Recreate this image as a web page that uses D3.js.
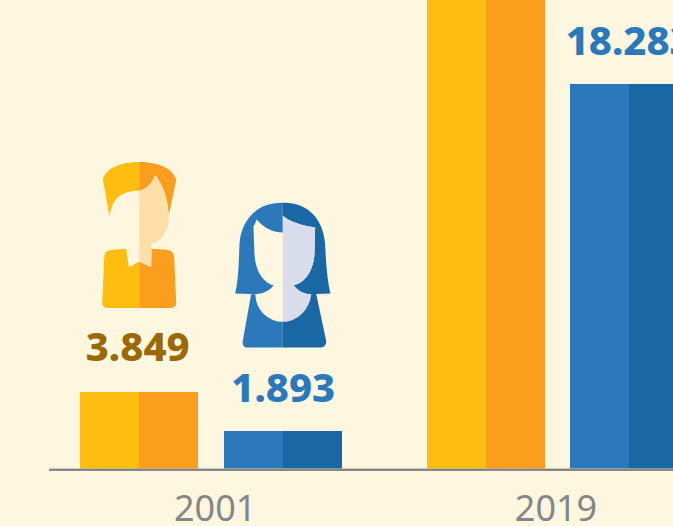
<!DOCTYPE html>
<html><head><meta charset="utf-8">
<script src="https://cdn.jsdelivr.net/npm/d3@7"></script>
<style>html,body{margin:0;padding:0;background:#FEF7E0;overflow:hidden}svg{display:block}</style>
</head><body><svg id="c" width="673" height="526"></svg>
<script>
const years = ["2001", "2019"];
const genders = ["men", "women"];
const men = [3.849, 24.5];
const women = [1.893, 18.283];
const menLabels = ["3.849", null];
const womenLabels = ["1.893", "18.283"];
const colors = {men:["#FEBD11","#FB9E1D"], women:["#2B79BA","#1A67A6"]};
const labelColors = {men:"#9A6A00", women:"#2B79BA"};

const svg = d3.select("#c");
const font = "'Noto Sans', sans-serif";
const baseY = 469;
const x0 = d3.scaleBand().domain(years).range([37.8, 730.6]);
const x1 = d3.scaleBand().domain(genders).range([-130.8, 130.8]).paddingInner(25.6/143.6);
const half = d3.scaleBand().domain([0,1]).range([0, x1.bandwidth()]);
const y = d3.scaleLinear().domain([0, 1.893, 3.849, 18.283, 24.5]).range([baseY, 431, 392, 84, -46]);
const tickX = d3.scalePoint().domain(years).range([215.2, 556]);
const cx = yr => x0(yr) + x0.bandwidth()/2;

const rows = [];
years.forEach((yr,i)=>{
  rows.push({yr, g:"men", v:men[i], label:menLabels[i]});
  rows.push({yr, g:"women", v:women[i], label:womenLabels[i]});
});

const groups = svg.selectAll("g.bar").data(rows).join("g").attr("class","bar");
groups.selectAll("rect").data(d=>[0,1].map(k=>({k,d}))).join("rect")
  .attr("shape-rendering","crispEdges")
  .attr("x", e=>cx(e.d.yr)+x1(e.d.g)+half(e.k))
  .attr("width", half.bandwidth())
  .attr("y", e=>y(e.d.v)).attr("height", e=>baseY-y(e.d.v))
  .attr("fill", e=>colors[e.d.g][e.k]);

// value labels
svg.selectAll("text.val").data(rows.filter(r=>r.label)).join("text").attr("class","val")
  .attr("x", d=>cx(d.yr)+x1(d.g)+x1.bandwidth()/2 + (d.g==="men"?-1.5:(d.yr==="2019"?0:0.5)))
  .attr("y", d=>y(d.v)-(d.g==="men"?31:29))
  .attr("text-anchor","middle")
  .attr("font-family",font).attr("font-weight",800).attr("font-size",40)
  .attr("fill", d=>labelColors[d.g]).text(d=>d.label);

// axis
const axis = svg.append("g").attr("transform",`translate(0,${baseY})`);
axis.append("rect").attr("x",49).attr("y",-1).attr("width",624).attr("height",1).attr("fill","#B5B0A3").attr("opacity",0.7);
axis.append("rect").attr("x",49).attr("y",0).attr("width",624).attr("height",2).attr("fill","#878787");
axis.selectAll("text").data(years).join("text")
  .attr("x",d=>tickX(d)).attr("y",51.5).attr("text-anchor","middle")
  .attr("font-family",font).attr("font-size",36).attr("fill","#868686").text(d=>d);

// icons, drawn relative to the column centre and the icon's base
function icon(g, yr, bottom, parts){
  const gg = svg.append("g").attr("transform",`translate(${cx(yr)+x1(g)+x1.bandwidth()/2},${bottom}) scale(${1/3})`);
  parts.forEach(p=>gg.append("path").attr("d",p[0]).attr("fill",p[1]));
}
// coordinates in thirds of a pixel, origin at the bottom centre of the icon
icon("men","2001",308,[
  ["M0,-438C-55,-438 -100,-420 -109,-386L-89,-274C-82,-334 -47,-352 0,-352Z","#FEBD11"],
  ["M0,-438C55,-438 102,-420 111,-384L89,-279C83,-344 68,-370 48,-399C38,-370 15,-354 0,-352Z","#FB9E1D"],
  ["M0,-352C15,-354 38,-370 48,-399C68,-370 83,-344 89,-279C92,-225 63,-199 36,-192L38,-122L0,-139Z","#FEDFA9"],
  ["M-105,-150C-105,-168 -95,-174 -80,-175L-39,-178L-31,-122L0,-139L0,0L-97,0C-105,0 -111,-7 -111,-14Z","#FEBD11"],
  ["M105,-150C105,-168 95,-174 80,-175L38,-178L36,-122L0,-139L0,0L97,0C105,0 111,-7 111,-14Z","#FB9E1D"]
]);
icon("women","2001",347.5,[
  ["M0,-434C-75,-436 -125,-385 -130,-310C-132,-240 -135,-195 -143,-162L-82,-160C-55,-162 -35,-175 -28,-187C-60,-195 -82,-232 -85,-280L-88,-362L-78,-384C-55,-355 -25,-345 0,-345Z","#2B79BA"],
  ["M0,-434C75,-436 122,-385 127,-310C130,-240 135,-195 143,-162L80,-160C55,-162 45,-172 32,-187C70,-195 92,-235 95,-280L97,-360C50,-367 20,-378 0,-395Z","#1A67A6"],
  ["M0,-395C20,-378 50,-367 97,-360L95,-280C92,-235 70,-195 32,-187C45,-172 60,-162 85,-160C80,-110 40,-77 0,-77Z","#D9DDEB"],
  ["M-95,-160L-82,-160C-82,-110 -40,-77 0,-77L0,0L-107,0C-118,0 -122,-10 -120,-20Z","#2B79BA"],
  ["M85,-160L100,-162L130,-20C132,-10 125,0 115,0L0,0L0,-77C40,-77 80,-110 85,-160Z","#1A67A6"]
]);
</script></body></html>
